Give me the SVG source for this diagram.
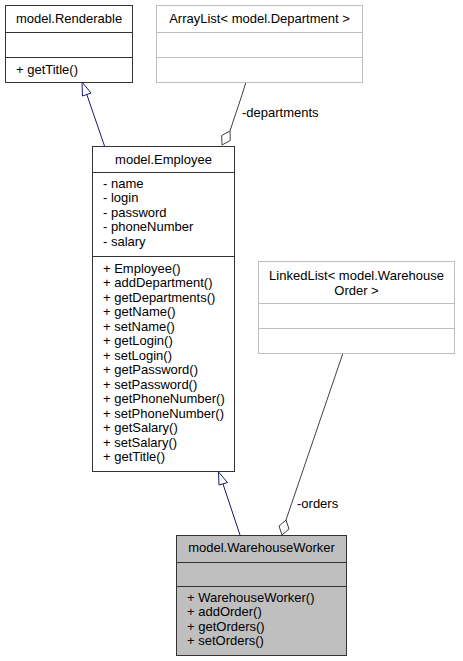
<svg xmlns="http://www.w3.org/2000/svg" width="463" height="661" viewBox="0 0 463 661">
<style>
text{font-family:"Liberation Sans",Arial,sans-serif;font-size:13px;fill:#000}
.c{text-anchor:middle}
.box{fill:#fff;stroke:#333;stroke-width:1}
.gbox{fill:#fff;stroke:#bfbfbf;stroke-width:1}
.sel{fill:#bfbfbf;stroke:#333;stroke-width:1}
.gen{fill:none;stroke:#191970;stroke-width:1}
.genh{fill:#fff;stroke:#191970;stroke-width:1}
.agg{fill:none;stroke:#404040;stroke-width:1}
.aggh{fill:#fff;stroke:#404040;stroke-width:1}
.lbl{fill:#000}
</style>
<rect width="463" height="661" fill="#fff"/>
<g id="connectors">
<path class="gen" d="M104.5,146 L86.8,94.5"/>
<polygon class="genh" points="82,82 82.5,96 91,93"/>
<path class="gen" d="M240,535 L223,484"/>
<polygon class="genh" points="218.5,472 219,485 227.5,482.5"/>
<path class="agg" d="M246,82 C241,99 235,115 230,131"/>
<polygon class="aggh" points="230,131 230.3,140.5 222,145 221.7,135.5"/>
<text class="lbl" x="242" y="116.5">-departments</text>
<path class="agg" d="M343,353 L286,520"/>
<polygon class="aggh" points="286,520 289,529 282,535 279,526"/>
<text class="lbl" x="297" y="507.5">-orders</text>
</g>
<g id="node-renderable">
<rect class="box" x="5.5" y="5.5" width="127" height="77"/>
<line class="box" x1="5.5" y1="32.5" x2="132.5" y2="32.5"/>
<line class="box" x1="5.5" y1="57.5" x2="132.5" y2="57.5"/>
<text class="c" x="69" y="23">model.Renderable</text>
<text x="16" y="74">+ getTitle()</text>
</g>
<g id="node-arraylist">
<rect class="gbox" x="156.5" y="5.5" width="206" height="77"/>
<line class="gbox" x1="156.5" y1="32.5" x2="362.5" y2="32.5"/>
<line class="gbox" x1="156.5" y1="57.5" x2="362.5" y2="57.5"/>
<text class="c" x="259.5" y="23">ArrayList&lt; model.Department &gt;</text>
</g>
<g id="node-employee">
<rect class="box" x="92.5" y="146.5" width="142" height="325"/>
<line class="box" x1="92.5" y1="172.5" x2="234.5" y2="172.5"/>
<line class="box" x1="92.5" y1="256.5" x2="234.5" y2="256.5"/>
<text class="c" x="163.5" y="164">model.Employee</text>
<text x="103" y="187.5">- name</text>
<text x="103" y="202">- login</text>
<text x="103" y="216.5">- password</text>
<text x="103" y="231">- phoneNumber</text>
<text x="103" y="245.5">- salary</text>
<text x="103" y="272.5">+ Employee()</text>
<text x="103" y="287">+ addDepartment()</text>
<text x="103" y="301.5">+ getDepartments()</text>
<text x="103" y="316">+ getName()</text>
<text x="103" y="330.5">+ setName()</text>
<text x="103" y="345">+ getLogin()</text>
<text x="103" y="359.5">+ setLogin()</text>
<text x="103" y="374">+ getPassword()</text>
<text x="103" y="388.5">+ setPassword()</text>
<text x="103" y="403">+ getPhoneNumber()</text>
<text x="103" y="417.5">+ setPhoneNumber()</text>
<text x="103" y="432">+ getSalary()</text>
<text x="103" y="446.5">+ setSalary()</text>
<text x="103" y="461">+ getTitle()</text>
</g>
<g id="node-linkedlist">
<rect class="gbox" x="258.5" y="261.5" width="196" height="92"/>
<line class="gbox" x1="258.5" y1="303.5" x2="454.5" y2="303.5"/>
<line class="gbox" x1="258.5" y1="328.5" x2="454.5" y2="328.5"/>
<text class="c" x="356.5" y="280">LinkedList&lt; model.Warehouse</text>
<text class="c" x="356.5" y="294.5">Order &gt;</text>
</g>
<g id="node-warehouseworker">
<rect class="sel" x="176.5" y="535.5" width="170" height="120"/>
<line class="sel" x1="176.5" y1="562.5" x2="346.5" y2="562.5"/>
<line class="sel" x1="176.5" y1="586.5" x2="346.5" y2="586.5"/>
<text class="c" x="261.5" y="552">model.WarehouseWorker</text>
<text x="187" y="601.5">+ WarehouseWorker()</text>
<text x="187" y="616">+ addOrder()</text>
<text x="187" y="630.5">+ getOrders()</text>
<text x="187" y="645">+ setOrders()</text>
</g>
</svg>
